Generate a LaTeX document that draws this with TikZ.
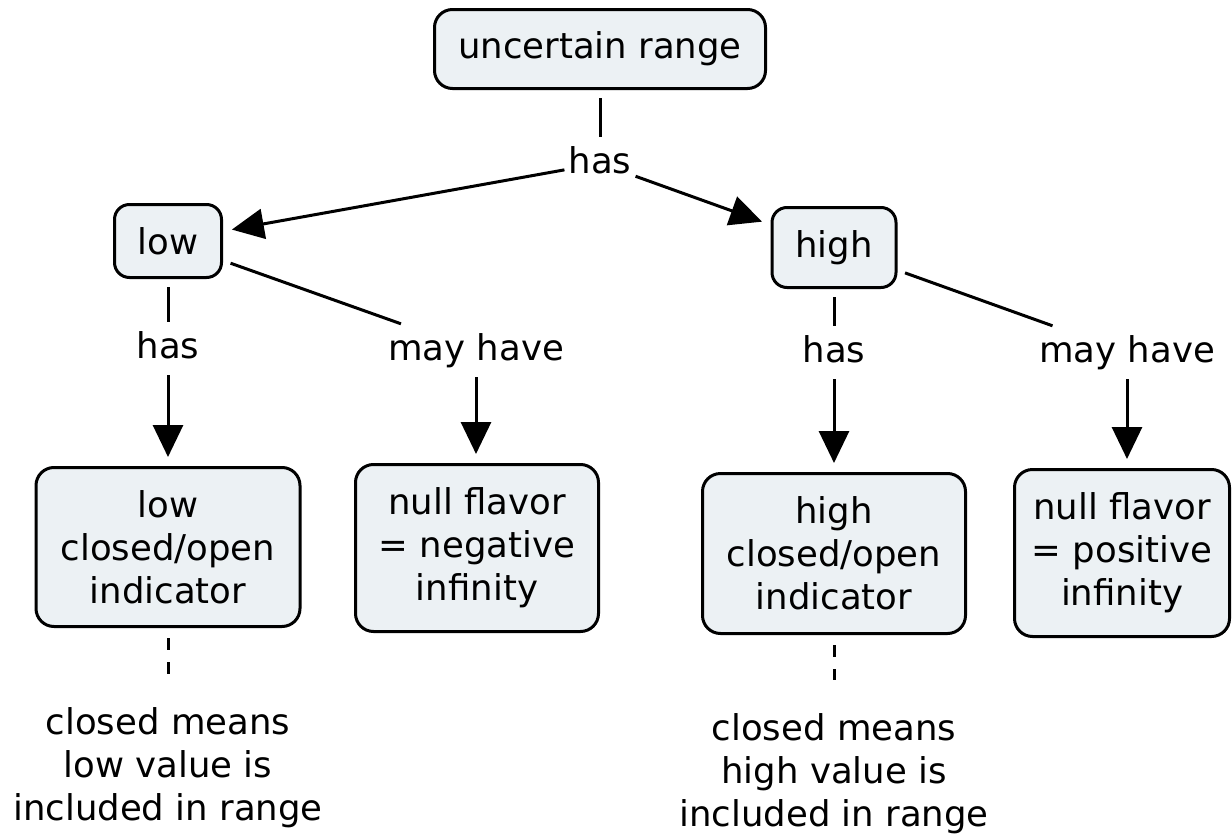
\documentclass[tikz,border=0pt]{standalone}
\usepackage{fontspec}
\setmainfont{DejaVu Sans}
\usetikzlibrary{arrows.meta}
\definecolor{boxfill}{RGB}{236,241,244}
\begin{document}
\begin{tikzpicture}[x=1pt,y=-1pt,
  every node/.style={font=\fontsize{35.5}{43}\selectfont},
  concept/.style={draw=black, line width=3pt, fill=boxfill, rounded corners=18pt,
    align=center, inner sep=0pt},
  smallconcept/.style={concept, rounded corners=15pt},
  linkword/.style={inner xsep=4pt, inner ysep=9pt, text height=27pt, text depth=8pt, anchor=base},
  note/.style={align=center, inner sep=0pt, anchor=north},
  joint/.style={line width=3pt, shorten <=8pt},
  arrowed/.style={line width=3pt, shorten >=9pt, -{Triangle[length=32pt,width=30pt]}},
  dashlink/.style={line width=3pt, dash pattern=on 12pt off 12pt, shorten <=10pt, shorten >=33pt}
]
\useasboundingbox (0,0) rectangle (1232,835);

% concepts
\node[concept, minimum width=331pt, minimum height=79pt] (range) at (600,49) {uncertain range};
\node[smallconcept, minimum width=107pt, minimum height=73pt] (low) at (168,241) {low};
\node[smallconcept, minimum width=124pt, minimum height=80pt] (high) at (834,247.5) {high};
\node[concept, minimum width=264pt, minimum height=159pt] (lowind) at (168,547) {low\\closed/open\\indicator};
\node[concept, minimum width=243pt, minimum height=167pt] (neginf) at (477,548) {null flavor\\= negative\\infinity};
\node[concept, minimum width=263pt, minimum height=160pt] (highind) at (834,553.5) {high\\closed/open\\indicator};
\node[concept, minimum width=215pt, minimum height=167pt] (posinf) at (1122,553) {null flavor\\= positive\\infinity};

% linking phrases
\node[linkword] (has0) at (600,173) {has};
\node[linkword] (haslow) at (168,358) {has};
\node[linkword] (maylow) at (476,360) {may have};
\node[linkword] (hashigh) at (834,362) {has};
\node[linkword] (mayhigh) at (1127,362) {may have};

% notes
\node[note] (lownote) at (168,707) {closed means\\low value is\\included in range};
\node[note] (highnote) at (834,713) {closed means\\high value is\\included in range};

% connectors
\draw[joint] (range) -- (has0);
\draw[arrowed] (has0) -- (low);
\draw[arrowed] (has0) -- (high);
\draw[joint] (low) -- (haslow);
\draw[arrowed] (haslow) -- (lowind);
\draw[joint] (low) -- (maylow);
\draw[arrowed] (maylow) -- (maylow |- neginf.north);
\draw[joint] (high) -- (hashigh);
\draw[arrowed] (hashigh) -- (highind);
\draw[joint] (high) -- (mayhigh);
\draw[arrowed] (mayhigh) -- (mayhigh |- posinf.north);
\draw[dashlink] (lowind) -- (lownote);
\draw[dashlink] (highind) -- (highnote);
\end{tikzpicture}
\end{document}
